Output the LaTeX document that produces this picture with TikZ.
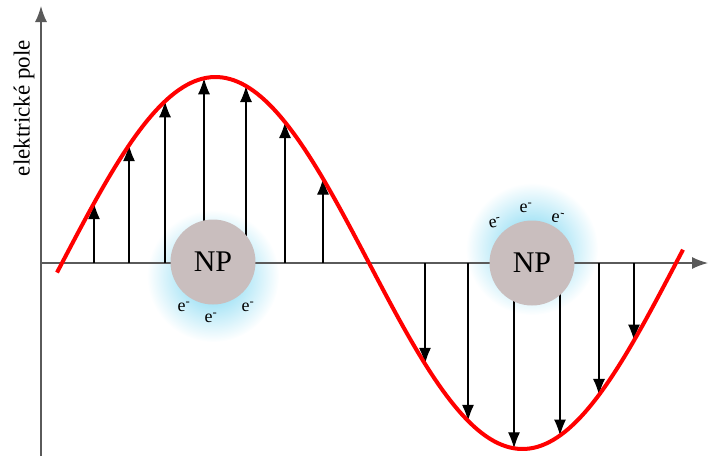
\documentclass[tikz,border=0pt]{standalone}
\usepackage{fontspec}
\setmainfont{Liberation Serif}
\usetikzlibrary{arrows.meta,shapes.geometric,fadings}
\definecolor{npfill}{RGB}{201,190,190}
\definecolor{glow}{RGB}{110,210,240}
\definecolor{axisgray}{RGB}{90,90,90}
\tikzfading[name=glowfade, inner color=transparent!0, outer color=transparent!100]
\tikzset{
  axisline/.style={draw=axisgray,line width=1.4pt,-{Latex[length=16pt,width=12pt]}},
  fieldarrow/.style={draw=black,line width=1.1pt,-{Latex[length=16pt,width=12pt]}},
  wave/.style={draw=red,line width=4pt},
  npcircle/.style={circle,fill=npfill,minimum size=85pt,inner sep=0pt,font=\fontsize{30}{30}\selectfont},
  elec/.style={font=\fontsize{18}{18}\selectfont,inner sep=0pt},
}
\begin{document}
\begin{tikzpicture}[x=1pt,y=-1pt]
\useasboundingbox (0,0) rectangle (709,459);
% glows
\fill[glow,path fading=glowfade] (213,276) circle [radius=66pt];
\fill[glow,path fading=glowfade] (532,249) circle [radius=66pt];
% axes
\coordinate (o) at (41,263);
\coordinate (ybot) at (41,456);
\coordinate (ytop) at (41,6);
\coordinate (xend) at (708,263);
\draw[axisgray,line width=1.4pt] (ybot) -- (o);
\draw[axisline] (o) -- (ytop);
\draw[axisline] (o) -- (xend);
\node[rotate=90,font=\fontsize{23}{23}\selectfont] (lbl) at (24,108) {elektrické pole};
% field arrows
\foreach \i/\xx/\yy in {1/94/203.2,2/129/145.2,3/165/101.3,4/204/78.3,5/246/86.0,6/285/122.1,7/323/178.6,8/425/363.8,9/468/420.8,10/514/448.3,11/560/435.5,12/599/394.9,13/634/340.5}{
  \coordinate (b\i) at (\xx,263);
  \coordinate (t\i) at (\xx,\yy);
  \draw[fieldarrow] (b\i) -- (t\i);
}
% wave
\draw[wave] plot[domain=57:683,samples=160] (\x,{263-186*sin(0.586319*(\x-62))});
% nanoparticles
\node[npcircle] (np1) at (213,262) {NP};
\node[npcircle] (np2) at (532,263) {NP};
\node[elec] (e1) at (184,307) {e\textsuperscript{-}};
\node[elec] (e2) at (211,318) {e\textsuperscript{-}};
\node[elec] (e3) at (248,307) {e\textsuperscript{-}};
\node[elec,rotate=12] (e4) at (495,223) {e\textsuperscript{-}};
\node[elec] (e5) at (526,208) {e\textsuperscript{-}};
\node[elec,rotate=-10] (e6) at (558,218) {e\textsuperscript{-}};
\end{tikzpicture}
\end{document}
